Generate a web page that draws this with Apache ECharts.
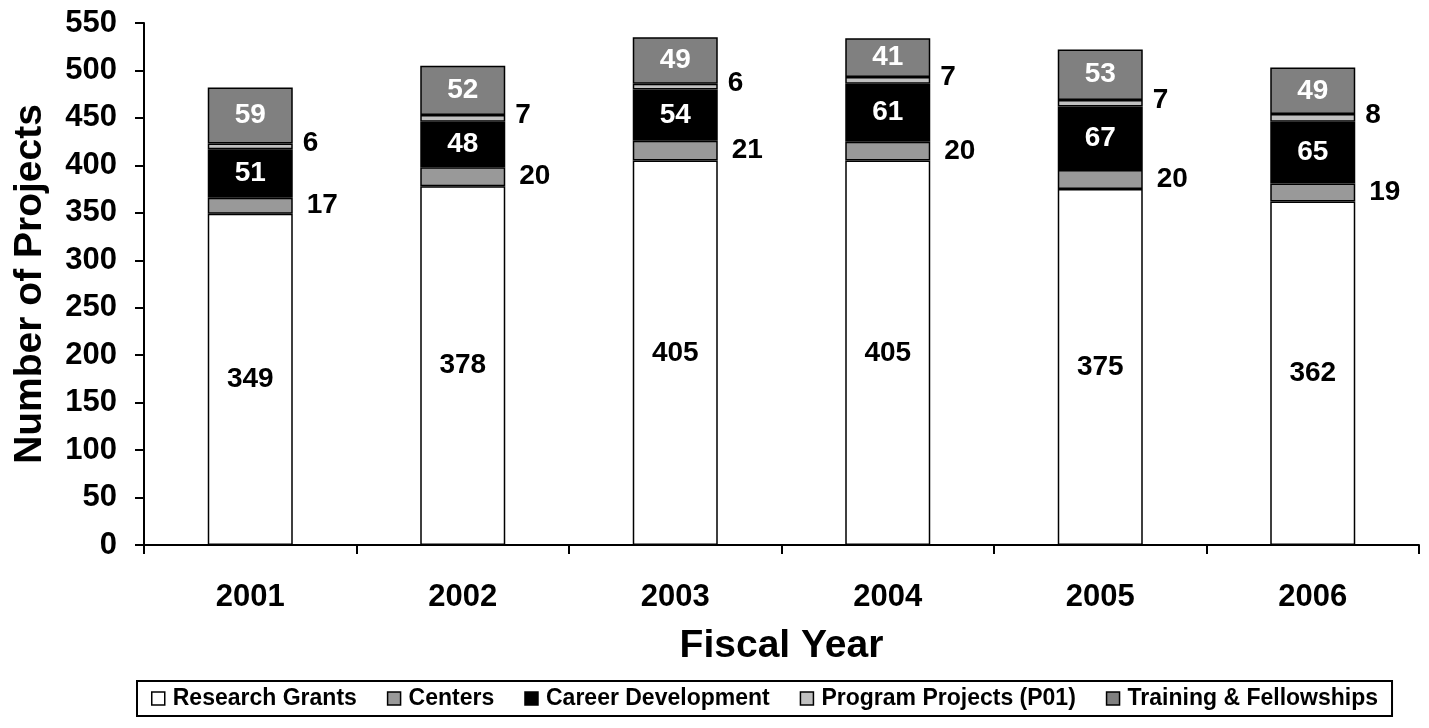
<!DOCTYPE html>
<html><head><meta charset="utf-8">
<script src="https://cdn.jsdelivr.net/npm/echarts@6/dist/echarts.min.js"></script>
<style>html,body{margin:0;padding:0;background:#fff}#c{width:1429px;height:728px}</style>
</head><body><div id="c"></div>
<script>
const categories = ['2001','2002','2003','2004','2005','2006'];
const researchGrants = [349, 378, 405, 405, 375, 362];
const centers = [17, 20, 21, 20, 20, 19];
const careerDevelopment = [51, 48, 54, 61, 67, 65];
const programProjects = [6, 7, 6, 7, 7, 8];
const trainingFellowships = [59, 52, 49, 41, 53, 49];
const yTicks = {min: 0, max: 550, interval: 50};

const FONT = '"Liberation Sans", Arial, sans-serif';
const chart = echarts.init(document.getElementById('c'));
function ser(name, data, color, label) {
  return {
    name, type: 'bar', stack: 'all', data, barWidth: '40%',
    itemStyle: {color, borderColor: '#000', borderWidth: 1.5},
    label: Object.assign({show: true, fontFamily: FONT, fontWeight: 'bold', fontSize: 28}, label)
  };
}
chart.setOption({
  animation: false,
  textStyle: {fontFamily: FONT},
  grid: {left: 144, right: 10, top: 23, bottom: 183, containLabel: false},
  xAxis: {
    type: 'category', data: categories, name: 'Fiscal Year', nameLocation: 'middle', nameGap: 82,
    nameTextStyle: {fontFamily: FONT, fontWeight: 'bold', fontSize: 39, color: '#000'},
    axisLine: {lineStyle: {color: '#000', width: 2}},
    axisTick: {show: true, length: 9, lineStyle: {color: '#000', width: 2}},
    axisLabel: {fontFamily: FONT, fontWeight: 'bold', fontSize: 31, color: '#000', margin: 37}
  },
  yAxis: {
    type: 'value', min: yTicks.min, max: yTicks.max, interval: yTicks.interval,
    name: 'Number of Projects', nameLocation: 'middle', nameGap: 94,
    nameTextStyle: {fontFamily: FONT, fontWeight: 'bold', fontSize: 39, color: '#000'},
    axisLine: {show: true, lineStyle: {color: '#000', width: 2}},
    axisTick: {show: true, length: 9, lineStyle: {color: '#000', width: 2}},
    splitLine: {show: false},
    axisLabel: {fontFamily: FONT, fontWeight: 'bold', fontSize: 31, color: '#000', margin: 27}
  },
  legend: {
    top: 681, left: 137,
    data: ['Research Grants','Centers','Career Development','Program Projects (P01)','Training & Fellowships'],
    icon: 'rect', itemWidth: 13, itemHeight: 13, itemGap: 30,
    borderColor: '#000', borderWidth: 2, padding: [6, 14],
    textStyle: {fontFamily: FONT, fontWeight: 'bold', fontSize: 23, color: '#000', padding: [0,0,0,3]},
    itemStyle: {borderColor: '#000', borderWidth: 1.5}
  },
  series: [
    ser('Research Grants', researchGrants, '#ffffff', {position: 'inside', color: '#000'}),
    ser('Centers', centers, '#999999', {position: 'right', distance: 14, color: '#000'}),
    ser('Career Development', careerDevelopment, '#000000', {position: 'inside', color: '#fff'}),
    ser('Program Projects (P01)', programProjects, '#c0c0c0', {position: 'right', distance: 10, color: '#000', offset: [0, -3]}),
    ser('Training & Fellowships', trainingFellowships, '#808080', {position: 'inside', color: '#fff'})
  ]
});
</script></body></html>
